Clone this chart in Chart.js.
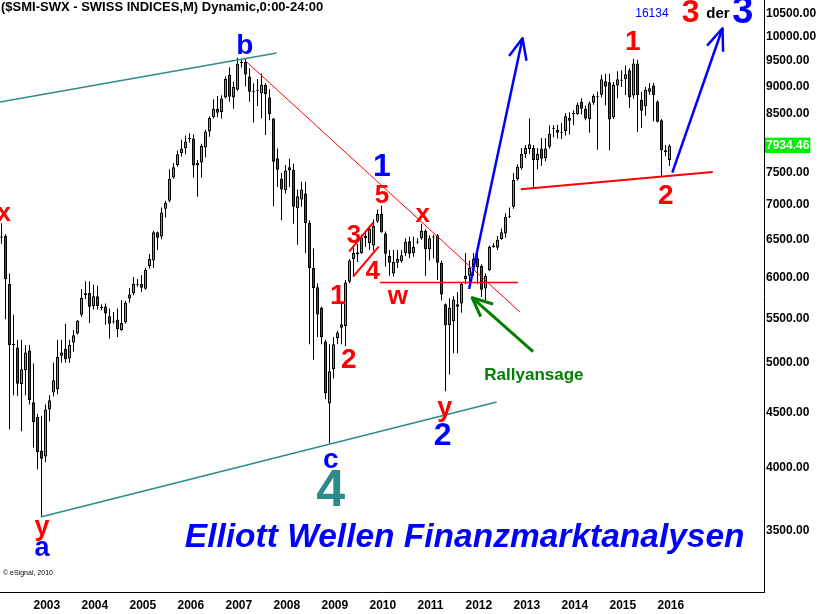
<!DOCTYPE html>
<html><head><meta charset="utf-8">
<script src="https://cdn.jsdelivr.net/npm/chart.js@4.4.1/dist/chart.umd.min.js"></script>
<style>html,body{margin:0;padding:0;background:#fff;overflow:hidden}</style>
</head><body>
<canvas id="c" width="821" height="614"></canvas>
<script>
// Monthly SMI candles, May 2002 .. Apr 2016 (index 0 = May 2002)
const opens = [6545,6555,5915,5195,5170,4780,4925,5135,4600,4460,4150,4100,4530,4700,4730,5080,5155,5050,5225,5325,
5540,5775,5805,5645,5765,5635,5640,5525,5460,5485,5365,5455,5735,5800,5900,5915,5855,6145,6220,6605,
6545,6940,7060,7420,7620,7815,7895,8050,8060,7610,7660,7905,8180,8430,8585,8525,8795,9225,8795,8940,
9460,9480,9195,8890,8920,8875,9035,8795,8410,7730,7400,7220,7580,7540,6950,7080,7170,6735,6120,5875,
5625,5235,4590,4935,5275,5430,5410,5945,6240,6330,6320,6520,6450,6420,6755,6865,6585,6280,6050,6190,
6210,6320,6480,6320,6460,6520,6625,6370,6530,6560,6190,5665,5420,5465,5665,5675,5980,6020,6130,6250,
6150,5860,6090,6420,6390,6510,6585,6825,6970,7390,7570,7800,7880,7900,7700,7890,7730,7920,8230,8210,
8160,8190,8370,8490,8490,8715,8585,8400,8695,8800,8845,9100,9085,8430,9020,9110,9140,9320,8830,9450,
8750,8630,8900,9020,8720,8380,7860,7700];
const highs = [6730,6575,6050,5540,5255,5255,5195,5195,4995,4490,4470,4580,4670,5005,5255,5255,5435,5255,5365,5480,
5850,5950,5950,5905,5895,5665,5675,5615,5575,5615,5715,5705,5865,6005,5980,6030,6120,6305,6625,6615,
6960,7060,7550,7650,7855,8040,8110,8150,8130,7700,7970,8210,8450,8760,8820,8835,9195,9375,9095,9570,
9540,9550,9355,9065,9145,9255,9065,8950,8420,7890,7490,7620,7720,7640,7230,7350,7350,6775,6380,5925,
5635,5255,5205,5285,5355,5695,5965,6240,6420,6440,6570,6600,6685,6785,6930,6990,6615,6360,6360,6360,
6360,6520,6540,6540,6520,6725,6645,6560,6570,6580,6220,5675,5740,5765,5815,5935,6320,6220,6320,6320,
6170,6050,6420,6450,6550,6655,6875,6960,7490,7630,7900,7950,8410,7950,7900,8070,8070,8290,8290,8300,
8330,8510,8520,8560,8700,8780,8640,8720,8860,8900,9230,9250,9250,9090,9300,9320,9410,9360,9550,9530,
8900,8990,9070,9070,8740,8400,7950,7960];
const lows = [6445,5490,4345,4670,4665,4325,4670,4580,4180,3990,3610,4050,4420,4660,4680,5005,5005,5005,5125,5315,
5515,5730,5445,5605,5605,5595,5425,5265,5435,5285,5355,5435,5685,5775,5880,5815,5845,6110,6120,6360,
6505,6815,7040,7400,7590,7755,7795,7990,7420,7120,7420,7740,8090,8410,8430,8410,8775,8715,8585,8920,
9370,9005,8715,8340,8635,8410,8120,8380,6980,7270,6775,7170,7270,6725,6430,6970,6320,5205,5035,5285,
5205,4630,4215,4840,5205,5205,5185,5925,6020,6200,6310,6400,6360,6350,6735,6595,6140,6020,6010,6120,
6190,6280,6250,6270,6440,6500,6020,6220,6250,5965,5715,4710,4880,5105,5105,5565,5915,5865,6020,5915,
5755,5715,6080,6390,6360,6500,6525,6805,6940,7370,7540,7730,7800,7250,7550,7600,7680,7890,8080,8060,
8050,8110,8130,8290,8470,8480,8380,8160,8660,7870,8800,8650,7860,8400,8780,8990,8840,8600,8770,8170,
8240,8460,8850,8360,8340,7430,7760,7600];
const closes = [6525,5975,5195,5205,4785,4935,5115,4620,4410,4140,4080,4530,4620,4820,5065,5115,5040,5195,5305,5470,
5745,5800,5635,5765,5645,5620,5555,5435,5470,5375,5445,5685,5785,5915,5910,5870,6095,6240,6605,6525,
6885,7030,7400,7580,7795,7885,8010,8065,7610,7650,7930,8180,8420,8585,8515,8775,9145,8805,8995,9440,
9475,9235,8900,8905,8940,9035,8860,8490,7670,7540,7230,7530,7530,6970,7130,7230,6735,6120,5865,5545,
5285,4690,4915,5205,5335,5390,5935,6220,6320,6300,6530,6550,6655,6695,6865,6605,6310,6190,6200,6240,
6290,6470,6310,6400,6475,6625,6370,6520,6545,6190,5785,5420,5625,5725,5635,5915,6020,6120,6240,6130,
5845,6020,6400,6400,6500,6605,6825,6835,7380,7590,7800,7900,7960,7700,7800,7720,7890,8140,8235,8160,
8150,8450,8420,8495,8660,8585,8410,8685,8825,8810,9140,9000,8390,9030,9140,9115,9240,8800,9450,8840,
8550,8940,8970,8840,8350,7860,7830,7934.46];

const yearLabels   = ['2003','2004','2005','2006','2007','2008','2009','2010','2011','2012','2013','2014','2015','2016'];
const yearStartIdx = [8,20,32,44,56,68,80,92,104,116,128,140,152,164];
const priceTicks   = [10500,10000,9500,9000,8500,7500,7000,6500,6000,5500,5000,4500,4000,3500];
const lastPrice    = 7934.46;

// axis range (value scale)
const Y_MIN = 3074, Y_MAX = 10818;
const X_MIN = -0.375, X_MAX = 190.625;

// Annotations in data coordinates (month index, price)
const annoLines = [
  {pts:[[-0.375,8710],[68.8,9666]], color:'#2e8b8b', w:1.5},
  {pts:[[9.8,3605],[123.8,4603]], color:'#2e8b8b', w:1.5},
  {pts:[[61.3,9483],[129.6,5574]], color:'#ff0000', w:1},
  {pts:[[94.6,5935],[129.1,5935]], color:'#ff0000', w:1.5},
  {pts:[[86.9,6336],[92.9,6740]], color:'#ff0000', w:2},
  {pts:[[87.9,6008],[94.3,6404]], color:'#ff0000', w:2},
  {pts:[[129.8,7235],[177.8,7506]], color:'#ff0000', w:2},
  {pts:[[116.9,5853],[130.25,9972]], color:'#0000ff', w:2.5},
  {pts:[[126.9,9604],[130.25,9972],[131.25,9509]], color:'#0000ff', w:2.5},
  {pts:[[167.7,7495],[180.25,10187]], color:'#0000ff', w:2.5},
  {pts:[[176.4,9817],[180.25,10187],[180.4,9692]], color:'#0000ff', w:2.5},
  {pts:[[132.9,5123],[117.65,5746]], color:'#008000', w:3},
  {pts:[[122.9,5670],[117.65,5746],[119.8,5518]], color:'#008000', w:3}
];
const annoTexts = [
  {t:'b', x:60.8, y:9810, c:'#0000ff', s:28},
  {t:'x', x:0.6, y:6865, c:'#ff0000', s:25},
  {t:'y', x:10.1, y:3522, c:'#ff0000', s:27},
  {t:'a', x:10.1, y:3368, c:'#0000ff', s:27},
  {t:'c', x:82.3, y:4069, c:'#0000ff', s:28},
  {t:'4', x:82.3, y:3802, c:'#2e8b8b', s:52},
  {t:'1', x:95.1, y:7586, c:'#0000ff', s:32},
  {t:'5', x:95.1, y:7133, c:'#ff0000', s:26},
  {t:'3', x:88.1, y:6551, c:'#ff0000', s:26},
  {t:'4', x:92.8, y:6068, c:'#ff0000', s:26},
  {t:'x', x:105.3, y:6850, c:'#ff0000', s:26},
  {t:'w', x:99.1, y:5754, c:'#ff0000', s:26},
  {t:'1', x:84.1, y:5766, c:'#ff0000', s:28},
  {t:'2', x:86.8, y:5034, c:'#ff0000', s:28},
  {t:'y', x:110.8, y:4536, c:'#ff0000', s:27},
  {t:'2', x:110.3, y:4283, c:'#0000ff', s:32},
  {t:'Rallyansage', x:133.1, y:4876, c:'#008000', s:17},
  {t:'1', x:157.8, y:9894, c:'#ff0000', s:28},
  {t:'2', x:166.1, y:7133, c:'#ff0000', s:28},
  {t:'16134', x:162.6, y:10501, c:'#0000ff', s:12, normal:true},
  {t:'3', x:172.3, y:10523, c:'#ff0000', s:32},
  {t:'der', x:179.1, y:10501, c:'#000000', s:15},
  {t:'3', x:185.3, y:10545, c:'#0000ff', s:38},
  {t:'Elliott Wellen Finanzmarktanalysen', x:115.8, y:3448, c:'#0000ff', s:33.5, italic:true}
];

const FONT = "'Liberation Sans', Arial, Helvetica, sans-serif";
const UP = '#00ee00', DOWN = '#f00000';

const annotate = {
  id:'annotate',
  afterDatasetsDraw(chart){
    const {ctx, scales:{x, y}, chartArea} = chart;
    ctx.save();
    ctx.lineJoin = 'round';
    ctx.lineCap = 'butt';
    annoLines.forEach(l => {
      ctx.beginPath();
      l.pts.forEach((p, i) => {
        const px = x.getPixelForValue(p[0]), py = y.getPixelForValue(p[1]);
        if (i === 0) ctx.moveTo(px, py); else ctx.lineTo(px, py);
      });
      ctx.strokeStyle = l.color; ctx.lineWidth = l.w; ctx.stroke();
    });
    ctx.textAlign = 'center'; ctx.textBaseline = 'middle';
    annoTexts.forEach(a => {
      ctx.font = (a.italic ? 'italic ' : '') + (a.normal ? '' : 'bold ') + a.s + 'px ' + FONT;
      ctx.fillStyle = a.c;
      ctx.fillText(a.t, x.getPixelForValue(a.x), y.getPixelForValue(a.y));
    });
    ctx.textAlign = 'left';
    ctx.fillStyle = '#000';
    ctx.font = 'bold 13px ' + FONT;
    ctx.fillText('($SMI-SWX - SWISS INDICES,M) Dynamic,0:00-24:00', chartArea.left + 1, chartArea.top + 7);
    ctx.font = '7px ' + FONT;
    ctx.fillText('\u00a9 eSignal, 2010', chartArea.left + 3, chartArea.bottom - 19);
    ctx.restore();
  }
};

const idx = closes.map((_, i) => i);
const colors = idx.map(i => closes[i] >= opens[i] ? UP : DOWN);

new Chart(document.getElementById('c'), {
  type: 'bar',
  data: {
    datasets: [
      { label:'body', order:0, data: idx.map(i => ({x:i, y:[opens[i], closes[i]]})),
        backgroundColor: colors, borderColor:'#000', borderWidth:1, borderSkipped:false,
        barThickness:3, minBarLength:1, inflateAmount:0, grouped:false },
      { label:'wick', order:1, data: idx.map(i => ({x:i, y:[lows[i], highs[i]]})),
        backgroundColor:'#000', borderWidth:0, barThickness:1, minBarLength:1, inflateAmount:0, grouped:false }
    ]
  },
  options: {
    responsive:false, animation:false, devicePixelRatio:1,
    layout:{padding:0},
    plugins:{legend:{display:false}, tooltip:{enabled:false}},
    scales:{
      x:{ type:'linear', min:X_MIN, max:X_MAX, offset:false,
        grid:{display:false, drawTicks:false},
        border:{display:true, color:'#000', width:1},
        afterBuildTicks: s => { s.ticks = yearStartIdx.map(v => ({value:v})); },
        afterFit: s => { s.height = 22; s.paddingLeft = 0; s.paddingRight = 0; },
        ticks:{ autoSkip:false, align:'start', maxRotation:0, minRotation:0, padding:6, color:'#000',
          font:{family:"'Liberation Sans Narrow', 'Arial Narrow', " + FONT, size:12, weight:'bold'},
          callback: v => yearLabels[yearStartIdx.indexOf(v)] }
      },
      y:{ type:'logarithmic', position:'right', min:Y_MIN, max:Y_MAX,
        grid:{display:false, drawTicks:false},
        border:{display:true, color:'#000', width:1},
        afterBuildTicks: s => { s.ticks = priceTicks.concat([lastPrice]).map(v => ({value:v})); },
        afterFit: s => { s.width = 57; s.paddingTop = 0; s.paddingBottom = 0; },
        ticks:{ autoSkip:false, padding:2,
          color: c => (c.tick && c.tick.value === lastPrice) ? '#ffffff' : '#000000',
          showLabelBackdrop: c => !!(c.tick && c.tick.value === lastPrice),
          backdropColor:'#00ee00', backdropPadding:{left:1, right:1, top:1, bottom:0},
          font:{family:FONT, size:12, weight:'bold'},
          callback: v => Number(v).toFixed(2) }
      }
    }
  },
  plugins:[annotate]
});
</script>
</body></html>
